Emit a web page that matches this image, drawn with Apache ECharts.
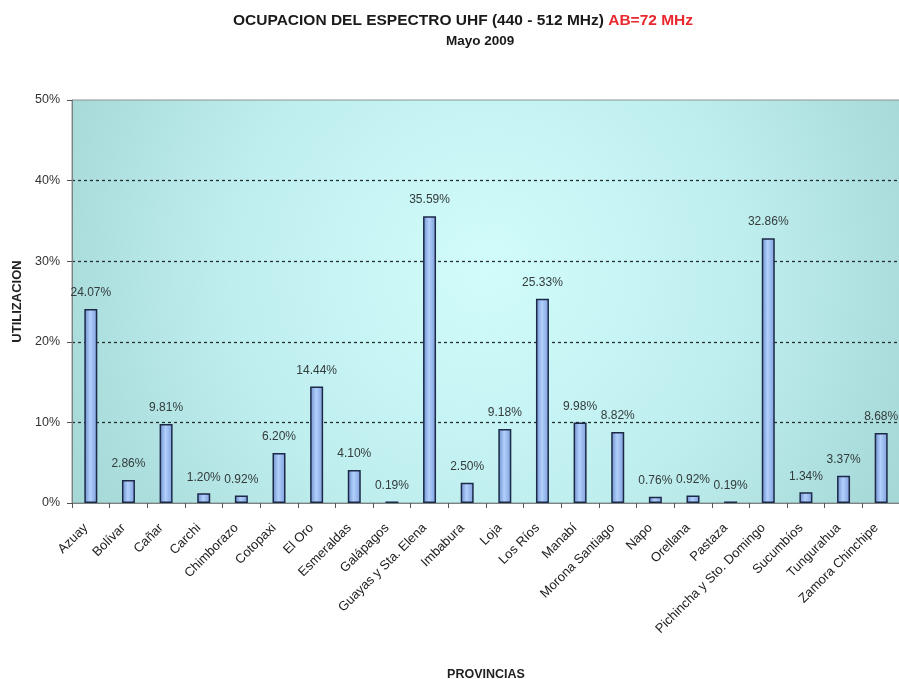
<!DOCTYPE html>
<html>
<head>
<meta charset="utf-8">
<script src="https://cdn.jsdelivr.net/npm/echarts@6/dist/echarts.min.js"></script>
<style>
html,body{margin:0;padding:0;background:#fff;}
#main{width:899px;height:679px;}
</style>
</head>
<body>
<div id="main"></div>
<script>
var provincias = ['Azuay','Bolívar','Cañar','Carchi','Chimborazo','Cotopaxi','El Oro','Esmeraldas','Galápagos','Guayas y Sta. Elena','Imbabura','Loja','Los Ríos','Manabí','Morona Santiago','Napo','Orellana','Pastaza','Pichincha y Sto. Domingo','Sucumbíos','Tungurahua','Zamora Chinchipe'];
var utilizacion = [24.07, 2.86, 9.81, 1.20, 0.92, 6.20, 14.44, 4.10, 0.19, 35.59, 2.50, 9.18, 25.33, 9.98, 8.82, 0.76, 0.92, 0.19, 32.86, 1.34, 3.37, 8.68];
var yTicks = [0, 10, 20, 30, 40, 50];

var FONT = 'Liberation Sans, Arial, sans-serif';
var chart = echarts.init(document.getElementById('main'), null, {renderer:'canvas'});
chart.setOption({
  backgroundColor: '#ffffff',
  animation: false,
  title: [
    {
      left: 228, top: 8,
      text: '{a|OCUPACION DEL ESPECTRO UHF (440 - 512 MHz) }{b|AB=72 MHz}',
      textStyle: {
        rich: {
          a: {fontFamily: FONT, fontWeight: 'bold', fontSize: 15.5, color: '#1a1a1a'},
          b: {fontFamily: FONT, fontWeight: 'bold', fontSize: 15.5, color: '#e8282e'}
        }
      }
    },
    {
      left: 441, top: 29,
      text: 'Mayo 2009',
      textStyle: {fontFamily: FONT, fontWeight: 'bold', fontSize: 13.5, color: '#1a1a1a'}
    }
  ],
  grid: {
    left: 72, top: 100, width: 828, height: 403,
    containLabel: false,
    outerBoundsMode: 'none',
    show: true,
    borderColor: '#8a9494', borderWidth: 1,
    backgroundColor: {
      type: 'radial', x: 0.5, y: 0.42, r: 1.15,
      colorStops: [
        {offset: 0, color: '#d2fcfc'},
        {offset: 0.55, color: '#bfeeee'},
        {offset: 1, color: '#a6d8d8'}
      ]
    }
  },
  xAxis: {
    type: 'category',
    data: provincias,
    name: 'PROVINCIAS',
    nameLocation: 'middle',
    nameGap: 165,
    nameTextStyle: {fontFamily: FONT, fontWeight: 'bold', fontSize: 12.5, color: '#222'},
    axisLine: {lineStyle: {color: '#7a8282', width: 1}},
    axisTick: {show: true, length: 5, lineStyle: {color: '#555'}},
    axisLabel: {rotate: 45, fontFamily: FONT, fontSize: 13, color: '#222', margin: 18, padding: [0, 7, 0, 0], interval: 0}
  },
  yAxis: {
    type: 'value',
    min: 0, max: 50, interval: 10,
    name: 'UTILIZACION',
    nameLocation: 'middle',
    nameRotate: 90,
    nameGap: 48,
    nameTextStyle: {fontFamily: FONT, fontWeight: 'bold', fontSize: 13, color: '#222'},
    axisLine: {show: true, lineStyle: {color: '#7a8282'}},
    axisTick: {show: true, length: 5, lineStyle: {color: '#555'}},
    axisLabel: {
      fontFamily: FONT, fontSize: 12.5, color: '#333', margin: 12,
      formatter: function (v) { return yTicks.indexOf(v) >= 0 ? v + '%' : ''; }
    },
    splitLine: {
      show: true,
      lineStyle: {color: ['transparent', '#263030', '#263030', '#263030', '#263030', 'transparent'], type: [3, 3], width: 1.3}
    }
  },
  series: [{
    type: 'bar',
    data: utilizacion,
    barWidth: 13,
    itemStyle: {
      borderColor: '#1c2a48',
      borderWidth: 1.5,
      color: {
        type: 'linear', x: 0, y: 0, x2: 1, y2: 0,
        colorStops: [
          {offset: 0, color: '#6a8ccc'},
          {offset: 0.45, color: '#b2d0fc'},
          {offset: 1, color: '#7c9edc'}
        ]
      }
    },
    label: {
      show: true, position: 'top', distance: 10,
      fontFamily: FONT, fontSize: 12, color: '#333b3b',
      formatter: function (p) { return p.value.toFixed(2) + '%'; }
    }
  }]
});
</script>
</body>
</html>
